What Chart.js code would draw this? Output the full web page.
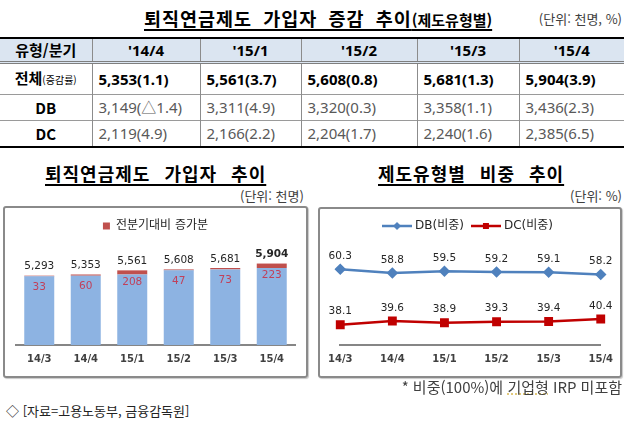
<!DOCTYPE html>
<html lang="ko">
<head>
<meta charset="utf-8">
<script src="https://cdn.jsdelivr.net/npm/chart.js@4.4.0/dist/chart.umd.min.js"></script>
<style>
  body { margin: 0; width: 628px; height: 428px; background: #fff; position: relative; overflow: hidden;
         font-family: "Noto Sans CJK KR", sans-serif; color: #000; }
  .abs { position: absolute; white-space: nowrap; }
  .title { font-weight: bold; text-decoration: underline; text-decoration-thickness: 2px; text-underline-offset: 3px; }
  .unit { font-size: 13px; color: #404040; }
  table { border-collapse: collapse; table-layout: fixed; font-family: "Noto Sans", "Noto Sans CJK KR", sans-serif; }
  th, td { padding: 0; font-size: 15px; }
  th { height: 22px; line-height: 22px; background: #dbe5f1; font-weight: bold; text-align: center;
       border-left: 1px solid #8c8c8c; border-bottom: 3px double #7f7f7f; }
  td { height: 25px; line-height: 25px; border-left: 1px solid #8c8c8c; border-top: 1px solid #9a9a9a; padding-left: 6px; color: #595959; }
  tr > :first-child { border-left: none; text-align: center; padding-left: 0; color: #000; font-weight: bold; font-family: "Noto Sans CJK KR", sans-serif; }
  tr.total td { height: 28px; line-height: 28px; font-weight: bold; color: #000; border-top: none; }
  .small { font-size: 10px; font-weight: normal; }
  .panel { position: absolute; border: 2px solid #8a8a8a; border-radius: 3px; box-shadow: 1px 1px 1px #c8c8c8; }
  canvas { position: absolute; }
</style>
</head>
<body>
<div class="abs title" style="left:144px; top:5px; font-size:18.5px; letter-spacing:1px; word-spacing:5px;">퇴직연금제도 가입자 증감 추이<span style="font-size:15px; letter-spacing:0;">(제도유형별)</span></div>
<div class="abs unit" style="right:6px; top:9px;">(단위: 천명, %)</div>

<table id="dataTable" class="abs" style="left:0; top:37px; width:624px; border-top:2px solid #000; border-bottom:2px solid #000;">
  <colgroup><col style="width:92px"><col style="width:108px"><col style="width:101px"><col style="width:116px"><col style="width:102px"><col style="width:105px"></colgroup>
  <thead><tr id="headRow"></tr></thead>
  <tbody id="tableBody"></tbody>
</table>

<div class="abs title" style="left:45px; top:160px; font-size:18px; letter-spacing:1px; word-spacing:8px;">퇴직연금제도 가입자 추이</div>
<div class="abs unit" style="left:240px; top:186px;">(단위: 천명)</div>
<div class="abs title" style="left:378px; top:160px; font-size:18px; letter-spacing:1px; word-spacing:8px;">제도유형별 비중 추이</div>
<div class="abs unit" style="right:6px; top:186px;">(단위: %)</div>

<div class="panel" style="left:3px; top:206px; width:301px; height:168px;"></div>
<div class="panel" style="left:318px; top:207px; width:300px; height:167px;"></div>
<canvas id="barChart" width="302" height="170" style="left:4px; top:207px;"></canvas>
<canvas id="lineChart" width="301" height="168" style="left:320px; top:209px;"></canvas>

<div class="abs" style="right:6px; top:376px; font-size:15px; color:#404040;">* 비중(100%)에 <span style="text-decoration:underline dotted #d8b850;">기업형</span> IRP 미포함</div>
<div class="abs" style="left:6px; top:401px; font-size:13px; color:#222;">◇ [자료=고용노동부, 금융감독원]</div>

<script>
// 표 데이터
const tableQuarters = ["'14/4", "'15/1", "'15/2", "'15/3", "'15/4"];
const tableTotal = [5353, 5561, 5608, 5681, 5904];
const tableTotalRate = ['1.1', '3.7', '0.8', '1.3', '3.9'];
const tableDB = [3149, 3311, 3320, 3358, 3436];
const tableDBRate = ['△1.4', '4.9', '0.3', '1.1', '2.3'];
const tableDC = [2119, 2166, 2204, 2240, 2385];
const tableDCRate = ['4.9', '2.2', '1.7', '1.6', '6.5'];

// 차트 데이터
const quarters = ['14/3', '14/4', '15/1', '15/2', '15/3', '15/4'];
const totals = [5293, 5353, 5561, 5608, 5681, 5904];
const prevTotals = [5260, 5293, 5353, 5561, 5608, 5681];
const increments = [33, 60, 208, 47, 73, 223];
const dbShare = [60.3, 58.8, 59.5, 59.2, 59.1, 58.2];
const dcShare = [38.1, 39.6, 38.9, 39.3, 39.4, 40.4];

const fmt = n => n.toLocaleString('en-US');

// 표 만들기
const headRow = document.getElementById('headRow');
headRow.innerHTML = '<th>유형/분기</th>' + tableQuarters.map(q => `<th>${q}</th>`).join('');
const tbody = document.getElementById('tableBody');
function addRow(label, cls, values, rates) {
  const tr = document.createElement('tr');
  if (cls) tr.className = cls;
  tr.innerHTML = `<td>${label}</td>` + values.map((v, i) => `<td>${fmt(v)}(${rates[i]})</td>`).join('');
  tbody.appendChild(tr);
}
addRow('전체<span class="small">(증감률)</span>', 'total', tableTotal, tableTotalRate);
addRow('DB', '', tableDB, tableDBRate);
addRow('DC', '', tableDC, tableDCRate);

const numFont = '"DejaVu Sans", "Noto Sans CJK KR", sans-serif';

// 막대 위 라벨
const barLabels = {
  id: 'barLabels',
  afterDatasetsDraw(chart) {
    const ctx = chart.ctx;
    chart.getDatasetMeta(1).data.forEach((bar, i) => {
      ctx.save();
      ctx.textAlign = 'center';
      ctx.textBaseline = 'middle';
      ctx.font = (i === totals.length - 1 ? 'bold ' : '') + '10.5px ' + numFont;
      ctx.fillStyle = '#262626';
      ctx.fillText(fmt(totals[i]), bar.x, bar.y - 9);
      ctx.font = '10.5px ' + numFont;
      ctx.fillStyle = '#c0405a';
      ctx.fillText(increments[i], bar.x, bar.y + 12);
      ctx.restore();
    });
  }
};

new Chart(document.getElementById('barChart'), {
  type: 'bar',
  data: {
    labels: quarters,
    datasets: [
      { label: '전분기 가입자', data: prevTotals, backgroundColor: '#8db3e2', barPercentage: 0.645, categoryPercentage: 1 },
      { label: '전분기대비 증가분', data: increments, backgroundColor: '#c0504d', barPercentage: 0.645, categoryPercentage: 1 }
    ]
  },
  options: {
    responsive: false,
    animation: false,
    layout: { padding: { left: 12, right: 11, top: 3, bottom: 4 } },
    plugins: {
      legend: {
        labels: {
          filter: item => item.datasetIndex === 1,
          boxWidth: 7, boxHeight: 7, color: '#262626',
          font: { size: 12, family: numFont }
        }
      },
      tooltip: { enabled: false }
    },
    scales: {
      x: {
        stacked: true,
        grid: { display: false, drawTicks: false },
        border: { color: '#868686', width: 2 },
        ticks: { color: '#404040', padding: 8, font: { size: 10, weight: 'bold', family: numFont } }
      },
      y: { stacked: true, display: false, min: 1800, max: 6990 }
    }
  },
  plugins: [barLabels]
});

// 범례용 선+마커 그림
function legendMark(color, shape) {
  const c = document.createElement('canvas');
  c.width = 30; c.height = 10;
  const g = c.getContext('2d');
  g.strokeStyle = color; g.fillStyle = color; g.lineWidth = 2.5;
  g.beginPath(); g.moveTo(0, 5); g.lineTo(30, 5); g.stroke();
  g.beginPath();
  if (shape === 'diamond') { g.moveTo(15, 1); g.lineTo(19, 5); g.lineTo(15, 9); g.lineTo(11, 5); g.closePath(); }
  else { g.rect(12, 2, 6, 6); }
  g.fill();
  return c;
}
const dbMark = legendMark('#4f81bd', 'diamond');
const dcMark = legendMark('#c00000', 'square');

// 점 위 라벨
const lineLabels = {
  id: 'lineLabels',
  afterDatasetsDraw(chart) {
    const ctx = chart.ctx;
    chart.data.datasets.forEach((ds, d) => {
      chart.getDatasetMeta(d).data.forEach((pt, i) => {
        ctx.save();
        ctx.textAlign = 'center';
        ctx.textBaseline = 'middle';
        ctx.font = '10.5px ' + numFont;
        ctx.fillStyle = '#262626';
        ctx.fillText(ds.data[i].toFixed(1), pt.x, pt.y - 13);
        ctx.restore();
      });
    });
  }
};

new Chart(document.getElementById('lineChart'), {
  type: 'line',
  data: {
    labels: quarters,
    datasets: [
      { label: 'DB(비중)', data: dbShare, borderColor: '#4f81bd', backgroundColor: '#4f81bd', borderWidth: 2.5,
        pointStyle: 'rectRot', pointRadius: 4, tension: 0 },
      { label: 'DC(비중)', data: dcShare, borderColor: '#c00000', backgroundColor: '#c00000', borderWidth: 2.5,
        pointStyle: 'rect', pointRadius: 4.5, tension: 0 }
    ]
  },
  options: {
    responsive: false,
    animation: false,
    layout: { padding: { left: 13, right: 16, top: 1, bottom: 4 } },
    plugins: {
      legend: {
        labels: {
          usePointStyle: true,
          pointStyleWidth: 24,
          color: '#262626',
          font: { size: 12, family: numFont },
          generateLabels: chart => chart.data.datasets.map((ds, i) => ({
            text: ds.label, datasetIndex: i, pointStyle: i === 0 ? dbMark : dcMark,
            fontColor: '#262626', hidden: false, lineWidth: 0
          }))
        }
      },
      tooltip: { enabled: false }
    },
    scales: {
      x: {
        grid: { display: false, drawTicks: false },
        border: { color: '#868686', width: 2 },
        ticks: { color: '#404040', padding: 8, font: { size: 10, weight: 'bold', family: numFont } }
      },
      y: { display: false, min: 30, max: 71.2 }
    }
  },
  plugins: [lineLabels]
});
</script>
</body>
</html>
